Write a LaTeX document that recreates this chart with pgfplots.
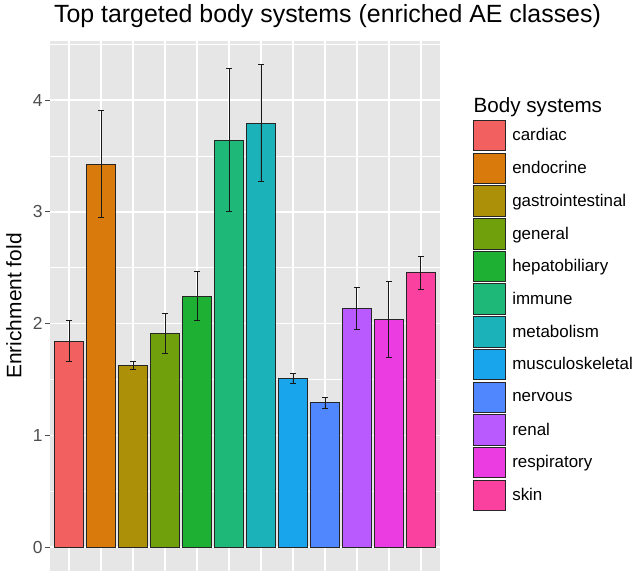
\documentclass[border=0pt]{standalone}
\usepackage{fontspec}
\setmainfont{Liberation Sans}
\usepackage{pgfplots}
\pgfplotsset{compat=1.18}
\definecolor{panel}{RGB}{230,230,230}
\definecolor{c1}{RGB}{242,96,96}
\definecolor{c2}{RGB}{216,122,12}
\definecolor{c3}{RGB}{172,145,8}
\definecolor{c4}{RGB}{112,160,12}
\definecolor{c5}{RGB}{30,176,50}
\definecolor{c6}{RGB}{30,185,120}
\definecolor{c7}{RGB}{28,178,185}
\definecolor{c8}{RGB}{25,165,235}
\definecolor{c9}{RGB}{80,135,255}
\definecolor{c10}{RGB}{185,90,255}
\definecolor{c11}{RGB}{235,60,225}
\definecolor{c12}{RGB}{250,65,160}
\definecolor{tickgray}{RGB}{77,77,77}
\pgfplotsset{
  bsty/.style={fill=#1, draw=black!85, line width=0.8bp, bar shift=0pt, bar width=0.9,
    legend image code/.code={\draw[##1, line width=0.8bp] (0bp,-15.2bp) rectangle (32bp,15.2bp);},
    error bars/.cd, y dir=both, y explicit,
    error bar style={black!90, line width=0.8bp},
    error mark options={black!90, line width=0.8bp, mark size=3bp, rotate=90}},
}
\begin{document}
\begin{tikzpicture}
\begin{axis}[
  at={(0,0)}, anchor=south west,
  scale only axis, width=390bp, height=530bp,
  ybar, clip mode=individual,
  xmin=0.4, xmax=12.6, ymin=-0.2145, ymax=4.53,
  axis line style={draw=none},
  axis background/.style={fill=panel},
  xtick={1,2,3,4,5,6,7,8,9,10,11,12}, xticklabels={},
  ytick={0,1,2,3,4}, minor ytick={0.5,1.5,2.5,3.5,4.5},
  grid=both,
  major grid style={white, line width=1.4bp},
  minor grid style={white, line width=0.7bp},
  xtick pos=bottom, ytick pos=left,
  tick align=outside, major tick length=5bp, minor tick length=0bp,
  tick style={tickgray, line width=1bp},
  xtick style={draw=none},
  /pgf/number format/assume math mode=true,
  tick label style={font=\fontsize{17.5}{20}\selectfont, text=tickgray},
  yticklabel style={xshift=1bp},
  every axis y label/.style={at={(axis description cs:-0.0923,0.5)}, rotate=90, anchor=center, font=\fontsize{21}{24}\selectfont},
  ylabel={Enrichment fold},
  legend style={at={(axis description cs:1.08462,0.85094)}, anchor=north west,
    draw=none, fill=none, inner sep=0pt, outer sep=0pt, row sep=1.5bp, column sep=4.5bp,
    font=\fontsize{17}{20}\selectfont},
  legend cell align=left,
]
\addplot+[bsty=c1] coordinates {(1,1.844) +- (0,0.181)};
\addplot+[bsty=c2] coordinates {(2,3.429) +- (0,0.482)};
\addplot+[bsty=c3] coordinates {(3,1.627) +- (0,0.039)};
\addplot+[bsty=c4] coordinates {(4,1.910) +- (0,0.179)};
\addplot+[bsty=c5] coordinates {(5,2.247) +- (0,0.216)};
\addplot+[bsty=c6] coordinates {(6,3.644) +- (0,0.642)};
\addplot+[bsty=c7] coordinates {(7,3.793) +- (0,0.524)};
\addplot+[bsty=c8] coordinates {(8,1.510) +- (0,0.042)};
\addplot+[bsty=c9] coordinates {(9,1.292) +- (0,0.048)};
\addplot+[bsty=c10] coordinates {(10,2.137) +- (0,0.191)};
\addplot+[bsty=c11] coordinates {(11,2.038) +- (0,0.336)};
\addplot+[bsty=c12] coordinates {(12,2.456) +- (0,0.149)};
\legend{cardiac,endocrine,gastrointestinal,general,hepatobiliary,immune,metabolism,musculoskeletal,nervous,renal,respiratory,skin}
\node[anchor=base, font=\fontsize{25}{28}\selectfont, inner sep=0pt] at (axis description cs:0.7115,1.0340) {Top targeted body systems (enriched AE classes)};
\node[anchor=base west, font=\fontsize{20.7}{24}\selectfont, inner sep=0pt] at (axis description cs:1.0859,0.86415) {Body systems};
\end{axis}
\pgfresetboundingbox
\path[use as bounding box] (-50bp,-5bp) rectangle (583bp,571bp);
\end{tikzpicture}
\end{document}
